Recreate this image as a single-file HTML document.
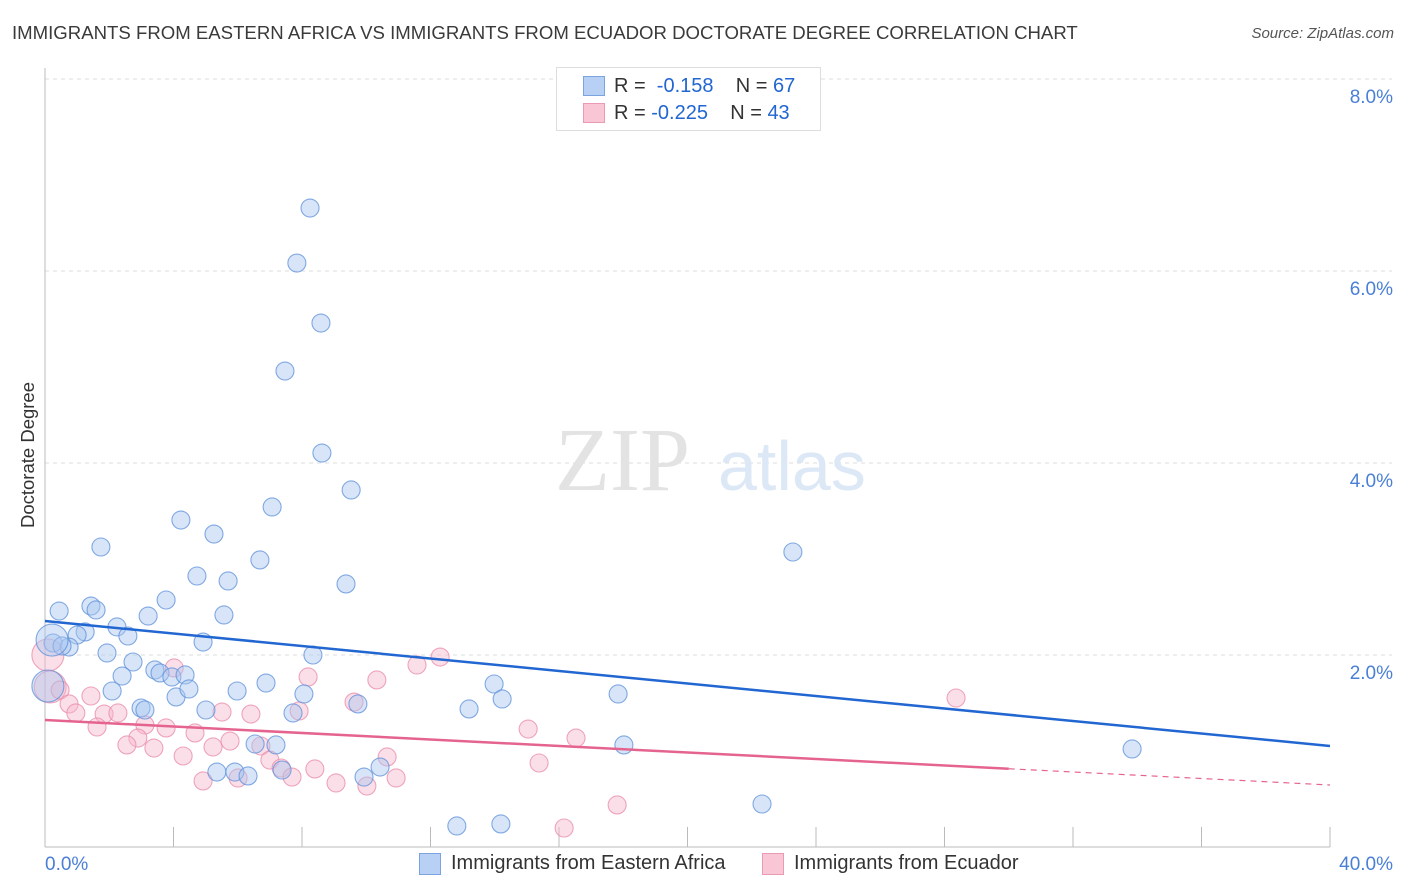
<!DOCTYPE html>
<html><head><meta charset="utf-8"><style>
body{margin:0;background:#fff;font-family:"Liberation Sans",sans-serif;}
#wrap{position:relative;width:1406px;height:892px;overflow:hidden;}
.t{position:absolute;white-space:nowrap;}
</style></head><body>
<div id="wrap">
<div class="t" style="left:12px;top:22px;font-size:18.6px;color:#3a3a3a;">IMMIGRANTS FROM EASTERN AFRICA VS IMMIGRANTS FROM ECUADOR DOCTORATE DEGREE CORRELATION CHART</div>
<div class="t" style="right:12px;top:25px;font-size:15px;color:#555;font-style:italic;">Source: ZipAtlas.com</div>
<svg id="svg" width="1406" height="892" style="position:absolute;left:0;top:0"></svg>
</div>
<script>
const yTicks=[2,4,6,8];
const yTickLabels=["2.0%","4.0%","6.0%","8.0%"];
const xLabels=["0.0%","40.0%"];
const blueX=[], blueY=[], pinkX=[], pinkY=[];
const bluePx=[[310,208],[297,263],[321,323],[285,371],[322,453],[351,490],[181,520],[272,507],[214,534],[101,547],[260,560],[197,576],[228,581],[346,584],[793,552],[166,600],[91,606],[96,610],[59,611],[148,616],[224,615],[117,627],[85,632],[77,635],[128,636],[53,643],[69,647],[203,642],[62,646],[107,653],[313,655],[133,662],[155,670],[160,673],[172,677],[185,675],[122,676],[176,697],[189,689],[112,691],[237,691],[266,683],[304,694],[494,684],[502,699],[618,694],[141,708],[145,710],[206,710],[293,713],[358,704],[469,709],[255,744],[276,745],[624,745],[1132,749],[380,767],[217,772],[235,772],[248,776],[282,770],[364,777],[762,804],[457,826],[501,824],[48,686],[52,640]];
const pinkPx=[[48,655],[50,687],[60,690],[91,696],[69,704],[76,713],[104,714],[118,713],[97,727],[145,725],[166,728],[138,738],[127,745],[154,748],[195,733],[183,756],[213,747],[230,741],[203,781],[238,778],[251,714],[222,712],[174,668],[308,677],[299,711],[354,702],[377,680],[417,665],[440,657],[528,729],[576,738],[539,763],[261,746],[270,760],[281,768],[292,777],[315,769],[336,783],[367,786],[387,757],[396,778],[617,805],[564,828],[956,698]];
bluePx.forEach(p=>{blueX.push(+((p[0]-45)/32.125).toFixed(2));blueY.push(+((847-p[1])/96).toFixed(3));});
pinkPx.forEach(p=>{pinkX.push(+((p[0]-45)/32.125).toFixed(2));pinkY.push(+((847-p[1])/96).toFixed(3));});
const blueTrend=[2.354,1.052];
const pinkTrend=[1.323,0.646];
const bigBlue=[65,66], bigPink=[0,1];

const X0=45,X1=1330,Y0=847;
const sx=v=>X0+v*(X1-X0)/40, sy=v=>Y0-v*96;
const svg=document.getElementById('svg');const NS='http://www.w3.org/2000/svg';
function mk(t,a,p){const e=document.createElementNS(NS,t);for(const k in a)e.setAttribute(k,a[k]);(p||svg).appendChild(e);return e;}
yTicks.forEach((v,i)=>{
 const g=mk('line',{x1:X0,x2:1392,y1:sy(v),y2:sy(v),stroke:'#ddd','stroke-dasharray':'4,4'});
 
 
 const t=mk('text',{x:1393,y:sy(v)+24,'text-anchor':'end','font-size':19,fill:'#4a7fd6','font-family':'Liberation Sans'});
 t.textContent=yTickLabels[i];
 
 
});
const ax=mk('line',{x1:X0,x2:X0,y1:68,y2:847,stroke:'#bbb'});

const bx=mk('line',{x1:X0,x2:1330,y1:847,y2:847,stroke:'#bbb'});

for(let i=1;i<=10;i++){const l=mk('line',{x1:sx(i*4),x2:sx(i*4),y1:827,y2:847,stroke:'#bbb'});

}
const w=mk('text',{x:555,y:490,'font-size':90,fill:'#e3e3e3','font-family':'Liberation Serif'});w.textContent='ZIP';

const w2=mk('text',{x:718,y:490,'font-size':70,fill:'#dde8f6','font-family':'Liberation Sans'});w2.textContent='atlas';

function dots(xs,ys,fill,stroke,big,name){xs.forEach((x,i)=>{const c=mk('circle',{cx:sx(x),cy:sy(ys[i]),r:big.includes(i)?16:9,fill:fill,'fill-opacity':0.45,stroke:stroke,'stroke-opacity':0.75,'stroke-width':1.1});

});}
dots(pinkX,pinkY,'#f7b9cb','#e98aa8',bigPink,'ecuador-point');
dots(blueX,blueY,'#a8c6ef','#5b8fd9',bigBlue,'eastern-africa-point');
const tb=mk('line',{x1:sx(0),y1:sy(blueTrend[0]),x2:sx(40),y2:sy(blueTrend[1]),stroke:'#2166d1','stroke-width':2.5});

const pm=pinkTrend[0]+(pinkTrend[1]-pinkTrend[0])*30/40;
const tp=mk('line',{x1:sx(0),y1:sy(pinkTrend[0]),x2:sx(30),y2:sy(pm),stroke:'#e5648f','stroke-width':2.5});

const tp2=mk('line',{x1:sx(30),y1:sy(pm),x2:sx(40),y2:sy(pinkTrend[1]),stroke:'#e5648f','stroke-width':1.2,'stroke-dasharray':'6,5'});

[[0,45,'start'],[1,1393,'end']].forEach(a=>{const t=mk('text',{x:a[1],y:870,'text-anchor':a[2],'font-size':19,fill:'#4a7fd6','font-family':'Liberation Sans'});t.textContent=xLabels[a[0]];
});
</script>
<div class="t" style="left:18px;top:455px;transform:translate(-50%,-50%) rotate(-90deg);transform-origin:center;font-size:18.5px;color:#333;margin-left:10px;">Doctorate Degree</div>
<div style="position:absolute;left:556px;top:67px;width:263px;height:62px;border:1px solid #ddd;background:#fff;font-size:20px;">
 <div style="position:absolute;left:26px;top:8px;width:20px;height:18px;background:#b8d0f3;border:1px solid #7aa3e0"></div>
 <div class="t" style="left:57px;top:7px;color:#333">R = &nbsp;<span style="color:#2166d1">-0.158</span>&nbsp;&nbsp;&nbsp; N = <span style="color:#2166d1">67</span></div>
 <div style="position:absolute;left:26px;top:35px;width:20px;height:18px;background:#f9c6d5;border:1px solid #eb9ab3"></div>
 <div class="t" style="left:57px;top:34px;color:#333">R = <span style="color:#2166d1">-0.225</span>&nbsp;&nbsp;&nbsp; N = <span style="color:#2166d1">43</span></div>
</div>
<div style="position:absolute;left:419px;top:853px;width:20px;height:20px;background:#b8d0f3;border:1px solid #7aa3e0"></div>
<div class="t" style="left:451px;top:852px;font-size:20px;color:#333">Immigrants from Eastern Africa</div>
<div style="position:absolute;left:762px;top:853px;width:20px;height:20px;background:#f9c6d5;border:1px solid #eb9ab3"></div>
<div class="t" style="left:794px;top:852px;font-size:20px;color:#333">Immigrants from Ecuador</div>
</body></html>
